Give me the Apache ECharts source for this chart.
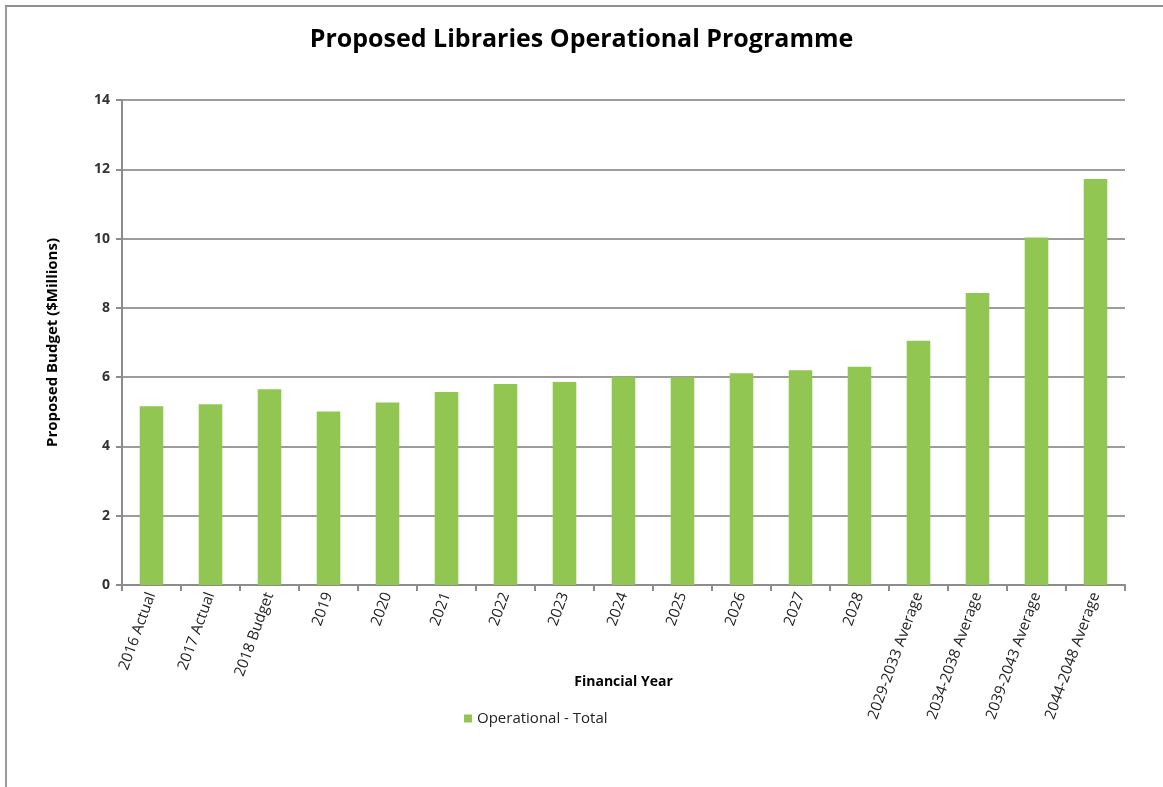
<!DOCTYPE html>
<html>
<head>
<meta charset="utf-8">
<script src="https://cdn.jsdelivr.net/npm/echarts@6/dist/echarts.min.js"></script>
<style>
  html, body { margin: 0; padding: 0; background: #fff; }
  #frame { position: absolute; left: 5px; top: 5px; width: 1158px; height: 782px;
           border-top: 2px solid #8f8f8f; border-left: 2px solid #9a9a9a; }
  #chart { position: absolute; left: 0; top: 0; width: 1163px; height: 787px; }
</style>
</head>
<body>
<div id="frame"></div>
<div id="chart"></div>
<script>
// Financial years shown on the category axis
const categories = [
  '2016 Actual', '2017 Actual', '2018 Budget', '2019', '2020', '2021', '2022',
  '2023', '2024', '2025', '2026', '2027', '2028',
  '2029-2033 Average', '2034-2038 Average', '2039-2043 Average', '2044-2048 Average'
];
// Operational budget, $ millions
const operationalTotal = [
  5.16, 5.22, 5.65, 5.01, 5.27, 5.57, 5.80,
  5.86, 6.01, 6.00, 6.11, 6.20, 6.30,
  7.05, 8.43, 10.03, 11.72
];
const seriesName = 'Operational - Total';
const yTicks = { min: 0, max: 14, interval: 2 };

const font = '"Open Sans", "Liberation Sans", sans-serif';
const chart = echarts.init(document.getElementById('chart'), null, { renderer: 'canvas' });

chart.setOption({
  backgroundColor: 'transparent',
  animation: false,
  textStyle: { fontFamily: font },
  title: {
    text: 'Proposed Libraries Operational Programme',
    left: 'center',
    top: 22,
    textStyle: { fontFamily: font, fontSize: 25, fontWeight: 'bold', color: '#000' }
  },
  legend: {
    data: [seriesName],
    left: 459,
    top: 706,
    icon: 'rect',
    itemWidth: 8,
    itemHeight: 8,
    itemGap: 6,
    textStyle: { fontFamily: font, fontSize: 15, color: '#222' }
  },
  grid: { left: 122, right: 38, top: 100, bottom: 202, containLabel: false },
  xAxis: {
    type: 'category',
    data: categories,
    name: 'Financial Year',
    nameLocation: 'middle',
    nameGap: 90,
    nameMoveOverlap: false,
    nameTextStyle: { fontFamily: font, fontSize: 14, fontWeight: 'bold', color: '#000' },
    axisLine: { lineStyle: { color: '#8c8c8c', width: 2 } },
    axisTick: { show: true, alignWithLabel: false, length: 6, lineStyle: { color: '#8c8c8c', width: 2 } },
    axisLabel: {
      interval: 0,
      rotate: 70,
      margin: 8,
      fontFamily: font,
      fontSize: 15,
      color: '#222'
    }
  },
  yAxis: {
    type: 'value',
    min: yTicks.min,
    max: yTicks.max,
    interval: yTicks.interval,
    name: 'Proposed Budget ($Millions)',
    nameLocation: 'middle',
    nameGap: 62,
    nameMoveOverlap: false,
    nameTextStyle: { fontFamily: font, fontSize: 15, fontWeight: 'bold', color: '#000' },
    axisLine: { show: true, lineStyle: { color: '#8c8c8c', width: 2 } },
    axisTick: { show: true, length: 6, lineStyle: { color: '#8c8c8c', width: 2 } },
    axisLabel: { margin: 12, fontFamily: font, fontSize: 14, fontWeight: 'bold', color: '#333' },
    splitLine: { show: true, lineStyle: { color: '#9c9c9c', width: 2 } }
  },
  series: [{
    name: seriesName,
    type: 'bar',
    data: operationalTotal,
    barWidth: '40%',
    itemStyle: { color: '#92C653' }
  }]
});
</script>
</body>
</html>
